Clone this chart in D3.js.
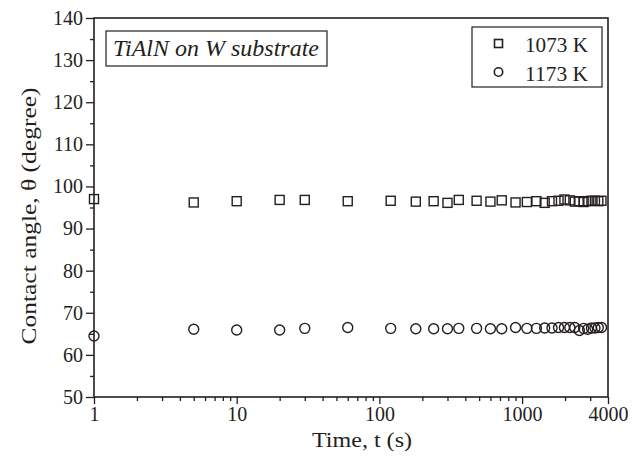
<!DOCTYPE html>
<html lang="en">
<head>
<meta charset="UTF-8">
<title>Contact angle vs time</title>
<script src="https://d3js.org/d3.v7.min.js"></script>
<style>
    body { margin: 0; background: #fff; }
    svg text { font-family: "Liberation Serif", "Times New Roman", "DejaVu Serif", serif; fill: #231f20; }
</style>
</head>
<body>
<svg width="644" height="464"></svg>
<script>
    // data
    var times = [1, 5, 10, 20, 30, 60, 120, 180, 240, 300, 360, 480, 600, 720, 900,
        1080, 1260, 1440, 1620, 1800, 1980, 2160, 2340, 2520, 2700, 2880, 3060, 3240, 3420, 3600];
    var angle1073 = [97.0, 96.2, 96.5, 96.8, 96.8, 96.5, 96.6, 96.4, 96.5, 96.1, 96.8, 96.6, 96.4, 96.7, 96.2,
        96.3, 96.5, 96.1, 96.5, 96.6, 96.9, 96.7, 96.4, 96.5, 96.3, 96.5, 96.6, 96.6, 96.5, 96.6];
    var angle1173 = [64.5, 66.1, 65.9, 65.9, 66.3, 66.5, 66.3, 66.2, 66.2, 66.2, 66.3, 66.3, 66.2, 66.2, 66.5,
        66.3, 66.3, 66.4, 66.4, 66.5, 66.5, 66.5, 66.5, 65.8, 66.3, 66.1, 66.4, 66.4, 66.5, 66.5];
    var seriesNames = ["1073 K", "1173 K"];
    var xMajor = [1, 10, 100, 1000, 4000];
    var xMinor = [2, 3, 4, 5, 6, 7, 8, 9, 20, 30, 40, 50, 60, 70, 80, 90,
        200, 300, 400, 500, 600, 700, 800, 900, 2000, 3000];
    var yMajor = [50, 60, 70, 80, 90, 100, 110, 120, 130, 140];
    var yMinor = [55, 65, 75, 85, 95, 105, 115, 125, 135];

    var svg = d3.select("svg"),
        margin = { top: 18, right: 36, bottom: 67, left: 94 },
        width = +svg.attr("width") - margin.left - margin.right,
        height = +svg.attr("height") - margin.top - margin.bottom;
    var ink = "#231f20";
    var serif = '"Liberation Serif", "Times New Roman", serif';

    var x = d3.scaleLog().domain([1, 4000]).range([0, width]);
    var y = d3.scaleLinear().domain([50, 140]).range([height, 0]);

    var g = svg.append("g").attr("transform", "translate(" + margin.left + "," + margin.top + ")");

    // minor ticks first, then major ticks with labels
    g.append("g").attr("transform", "translate(0," + height + ")")
        .call(d3.axisBottom(x).tickValues(xMinor).tickSize(4).tickFormat(""));
    g.append("g").attr("transform", "translate(0," + height + ")")
        .call(d3.axisBottom(x).tickValues(xMajor).tickSize(7).tickPadding(3).tickFormat(d3.format("d")))
        .attr("font-family", serif).attr("font-size", 20);
    g.append("g")
        .call(d3.axisLeft(y).tickValues(yMinor).tickSize(4).tickFormat(""));
    g.append("g")
        .call(d3.axisLeft(y).tickValues(yMajor).tickSize(8).tickPadding(3))
        .attr("font-family", serif).attr("font-size", 20);

    g.selectAll(".domain").remove();
    g.selectAll(".tick line").attr("stroke", ink).attr("stroke-width", 1.3);
    g.selectAll(".tick text").attr("fill", ink);

    // frame
    g.append("rect")
        .attr("width", width).attr("height", height)
        .attr("fill", "none").attr("stroke", ink).attr("stroke-width", 1.6);

    // markers
    g.selectAll(".sq").data(times).enter().append("rect")
        .attr("x", function (d) { return x(d) - 4.5; })
        .attr("y", function (d, i) { return y(angle1073[i]) - 4.5; })
        .attr("width", 9).attr("height", 9)
        .attr("fill", "none").attr("stroke", ink).attr("stroke-width", 1.4);
    g.selectAll(".ci").data(times).enter().append("circle")
        .attr("cx", function (d) { return x(d); })
        .attr("cy", function (d, i) { return y(angle1173[i]); })
        .attr("r", 5)
        .attr("fill", "none").attr("stroke", ink).attr("stroke-width", 1.4);

    // title box
    svg.append("rect").attr("x", 106).attr("y", 31).attr("width", 221).attr("height", 35)
        .attr("fill", "none").attr("stroke", ink).attr("stroke-width", 1.2);
    svg.append("text").attr("x", 113).attr("y", 56)
        .attr("textLength", 206).attr("lengthAdjust", "spacingAndGlyphs")
        .style("font-size", "23px").style("font-style", "italic")
        .text("TiAlN on W substrate");

    // legend
    var lg = svg.append("g").attr("transform", "translate(472,27)");
    lg.append("rect").attr("width", 130).attr("height", 60)
        .attr("fill", "none").attr("stroke", ink).attr("stroke-width", 1.2);
    lg.append("rect").attr("x", 22.5).attr("y", 12.5).attr("width", 8).attr("height", 8)
        .attr("fill", "none").attr("stroke", ink).attr("stroke-width", 1.6);
    lg.append("circle").attr("cx", 26.5).attr("cy", 45).attr("r", 4.2)
        .attr("fill", "none").attr("stroke", ink).attr("stroke-width", 1.6);
    lg.selectAll(".lt").data(seriesNames).enter().append("text")
        .attr("x", 53).attr("y", function (d, i) { return 25 + i * 29; })
        .attr("textLength", 63).attr("lengthAdjust", "spacingAndGlyphs")
        .style("font-size", "22px").text(function (d) { return d; });

    // axis titles
    svg.append("text")
        .attr("x", 312).attr("y", 447)
        .attr("textLength", 100).attr("lengthAdjust", "spacingAndGlyphs")
        .style("font-size", "22px")
        .text("Time, t (s)");
    svg.append("text")
        .attr("transform", "translate(36,216) rotate(-90)")
        .attr("text-anchor", "middle")
        .attr("textLength", 257).attr("lengthAdjust", "spacingAndGlyphs")
        .style("font-size", "22px")
        .text("Contact angle, θ (degree)");
</script>
</body>
</html>
